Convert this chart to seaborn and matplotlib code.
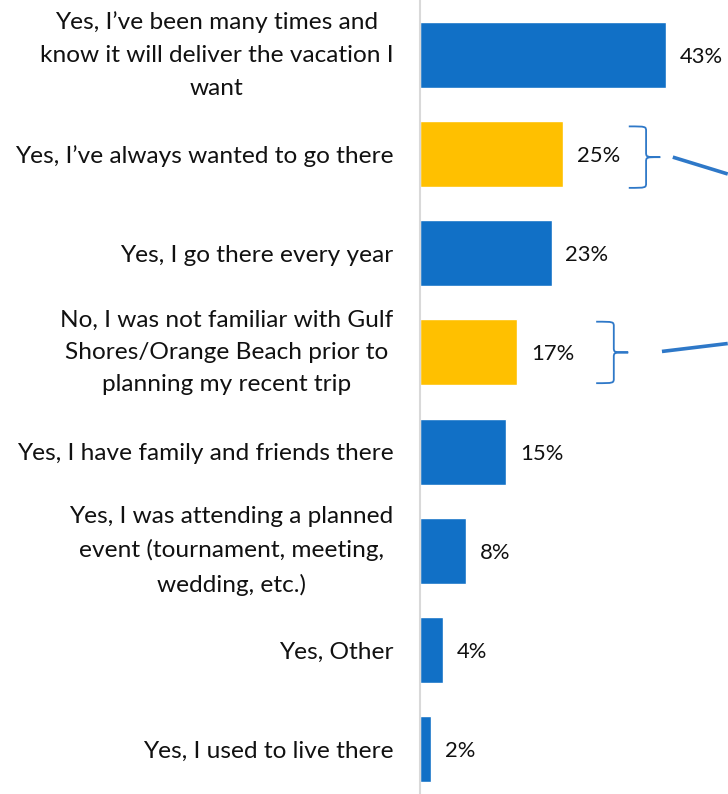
import matplotlib
matplotlib.use("Agg")
import matplotlib.pyplot as plt
from matplotlib.path import Path
from matplotlib.patches import PathPatch
import seaborn as sns
import pandas as pd

categories = [
    "Yes, I\u2019ve been many times and\nknow it will deliver the vacation I\nwant",
    "Yes, I\u2019ve always wanted to go there",
    "Yes, I go there every year",
    "No, I was not familiar with Gulf\nShores/Orange Beach prior to\nplanning my recent trip",
    "Yes, I have family and friends there",
    "Yes, I was attending a planned\nevent (tournament, meeting,\nwedding, etc.)",
    "Yes, Other",
    "Yes, I used to live there",
]
values = [43, 25, 23, 17, 15, 8, 4, 2]
highlighted = [False, True, False, True, False, False, False, False]

BLUE = "#1170C6"
GOLD = "#FFC000"
BRACE = "#2E78C8"

sns.set_theme(style="white")
plt.rcParams["font.family"] = ["Lato", "DejaVu Sans"]

df = pd.DataFrame({"answer": categories, "pct": values})
palette = {c: (GOLD if h else BLUE) for c, h in zip(categories, highlighted)}

fig = plt.figure(figsize=(7.28, 7.94), dpi=100)
ax = fig.add_axes([420 / 728, 0, 308 / 728, 1])

sns.barplot(data=df, y="answer", x="pct", hue="answer", palette=palette,
            legend=False, width=0.666, ax=ax, saturation=1)

ax.set_xlim(0, 308 / 5.72)
ax.set_ylim(7.454, -0.555)
ax.set_xlabel("")
ax.set_ylabel("")
ax.set_xticks([])
for side in ("top", "right", "bottom"):
    ax.spines[side].set_visible(False)
ax.spines["left"].set_color("#D9D9D9")
ax.spines["left"].set_linewidth(1.5)
ax.tick_params(axis="y", length=0, pad=19, labelsize=17.6, labelcolor="#111111")
for lbl in ax.get_yticklabels():
    lbl.set_multialignment("center")
    lbl.set_linespacing(1.68)
    if "\n" in lbl.get_text():
        lbl.set_va("center")

for cont in ax.containers:
    labels = ax.bar_label(cont, labels=[f"{v:.0f}%" for v in cont.datavalues],
                          padding=10, fontsize=15.8, color="#111111")
    for t in labels:
        t.set_va("center_baseline")


def brace(ax, x0, x1, yc, half):
    """Right-facing curly brace from x0 (arms) to x1 (tip)."""
    xm = x0 + (x1 - x0) * 0.55
    verts = [
        (x0, yc - half),
        (xm, yc - half), (xm, yc - half), (xm, yc - half + 0.05),
        (xm, yc - 0.05),
        (xm, yc), (xm, yc), (x1, yc),
        (xm, yc), (xm, yc), (xm, yc + 0.05),
        (xm, yc + half - 0.05),
        (xm, yc + half), (xm, yc + half), (x0, yc + half),
    ]
    codes = [Path.MOVETO,
             Path.CURVE4, Path.CURVE4, Path.CURVE4,
             Path.LINETO,
             Path.CURVE4, Path.CURVE4, Path.CURVE4,
             Path.CURVE4, Path.CURVE4, Path.CURVE4,
             Path.LINETO,
             Path.CURVE4, Path.CURVE4, Path.CURVE4]
    ax.add_patch(PathPatch(Path(verts, codes), fill=False, edgecolor=BRACE,
                           linewidth=1.3, clip_on=False))


brace(ax, 36.5, 42.0, 1.03, 0.31)
brace(ax, 30.8, 36.4, 3.0, 0.31)

# connector lines running off to the right
ax.plot([44.2, 53.8], [1.03, 1.20], color=BRACE, linewidth=2.6,
        solid_capstyle="butt", clip_on=True)
ax.plot([42.3, 53.8], [2.99, 2.91], color=BRACE, linewidth=2.6,
        solid_capstyle="butt", clip_on=True)

fig.savefig("out.png", dpi=100)
